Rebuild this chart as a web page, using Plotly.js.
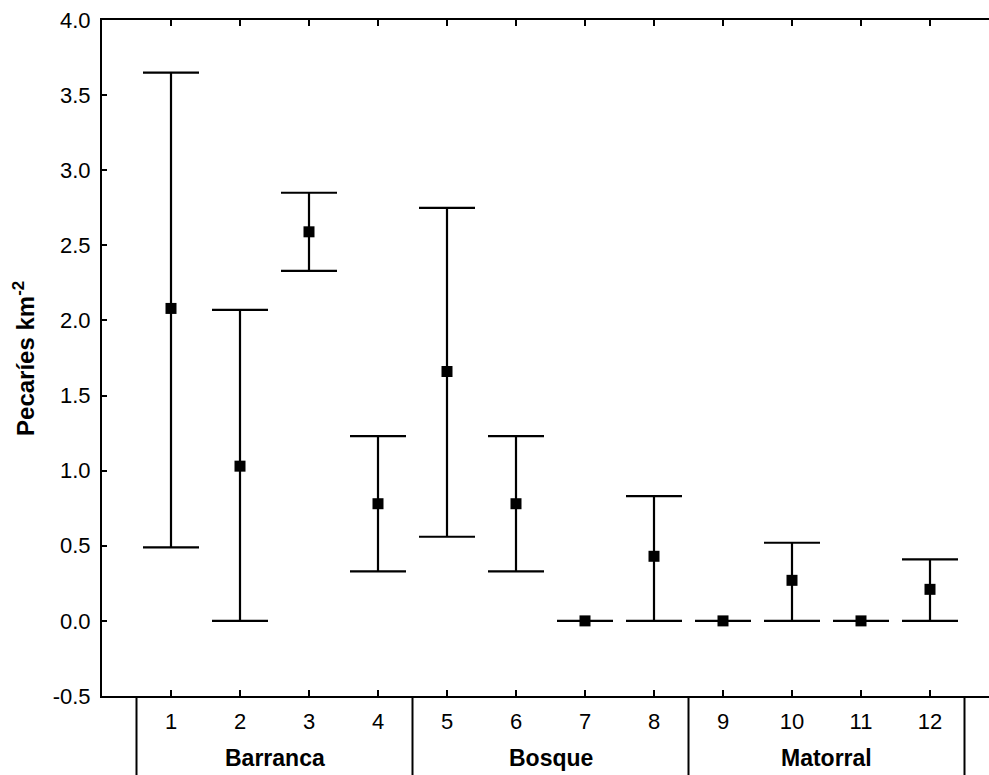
<!DOCTYPE html>
<html>
<head>
<meta charset="utf-8">
<script src="https://cdn.plot.ly/plotly-3.0.1.min.js"></script>
<style>html,body{margin:0;padding:0;background:#fff;}#chart{width:989px;height:775px;}</style>
</head>
<body>
<div id="chart"></div>
<script>
// Data
const sites = [1, 2, 3, 4, 5, 6, 7, 8, 9, 10, 11, 12];
const meanDensity = [2.08, 1.03, 2.59, 0.78, 1.66, 0.78, 0.0, 0.43, 0.0, 0.27, 0.0, 0.21];
const upperCI = [3.65, 2.07, 2.85, 1.23, 2.75, 1.23, 0.0, 0.83, 0.0, 0.52, 0.0, 0.41];
const lowerCI = [0.49, 0.0, 2.33, 0.33, 0.56, 0.33, 0.0, 0.0, 0.0, 0.0, 0.0, 0.0];
const groupNames = ["Barranca", "Bosque", "Matorral"];
const groupCenters = [2.5, 6.5, 10.5];
const groupBounds = [0.5, 4.5, 8.5, 12.5];
const yTicks = [-0.5, 0.0, 0.5, 1.0, 1.5, 2.0, 2.5, 3.0, 3.5, 4.0];

const errPlus = upperCI.map((u, i) => u - meanDensity[i]);
const errMinus = lowerCI.map((l, i) => meanDensity[i] - l);

const FONT = "Liberation Sans, Arial, sans-serif";

const trace = {
  type: "scatter",
  mode: "markers",
  x: sites,
  y: meanDensity,
  marker: {symbol: "square", size: 11, color: "#000", line: {width: 0}},
  error_y: {
    type: "data", symmetric: false,
    array: errPlus, arrayminus: errMinus,
    color: "#000", thickness: 2.2, width: 28
  },
  showlegend: false,
  cliponaxis: false
};

const shapes = groupBounds.map(b => ({
  type: "line", xref: "x", yref: "paper",
  x0: b, x1: b, y0: 0, y1: -0.13,
  line: {color: "#000", width: 2}
}));

const annotations = groupNames.map((g, i) => ({
  xref: "x", yref: "paper", x: groupCenters[i], y: -0.0917,
  xanchor: "center", yanchor: "middle", showarrow: false,
  text: "<b>" + g + "</b>",
  font: {family: FONT, size: 23, color: "#000"}
}));
annotations.push({
  xref: "paper", yref: "paper", x: -0.088, y: 0.5,
  xanchor: "center", yanchor: "middle", showarrow: false,
  textangle: -90,
  text: "<b>Pecaríes km<sup>-2</sup></b>",
  font: {family: FONT, size: 24, color: "#000"}
});

const layout = {
  width: 989, height: 775,
  margin: {l: 102, r: 0, t: 20, b: 79},
  paper_bgcolor: "#fff", plot_bgcolor: "#fff",
  font: {family: FONT, color: "#000"},
  xaxis: {
    range: [0, 12.855],
    tickvals: sites, ticktext: sites.map(String),
    ticks: "inside", ticklen: 6, tickwidth: 2, tickcolor: "#000",
    showline: true, linecolor: "#000", linewidth: 2,
    mirror: "ticks", showgrid: false, zeroline: false,
    tickfont: {family: FONT, size: 22, color: "#000"},
    ticklabelstandoff: 5
  },
  yaxis: {
    range: [-0.5, 4.0],
    tickvals: yTicks, ticktext: yTicks.map(v => v.toFixed(1)),
    ticks: "inside", ticklen: 5, tickwidth: 2, tickcolor: "#000",
    showline: true, linecolor: "#000", linewidth: 2,
    mirror: false, showgrid: false, zeroline: false,
    tickfont: {family: FONT, size: 22, color: "#000"},
    ticklabelstandoff: 5
  },
  shapes: shapes,
  annotations: annotations
};

Plotly.newPlot("chart", [trace], layout, {displayModeBar: false, staticPlot: true});
</script>
</body>
</html>
